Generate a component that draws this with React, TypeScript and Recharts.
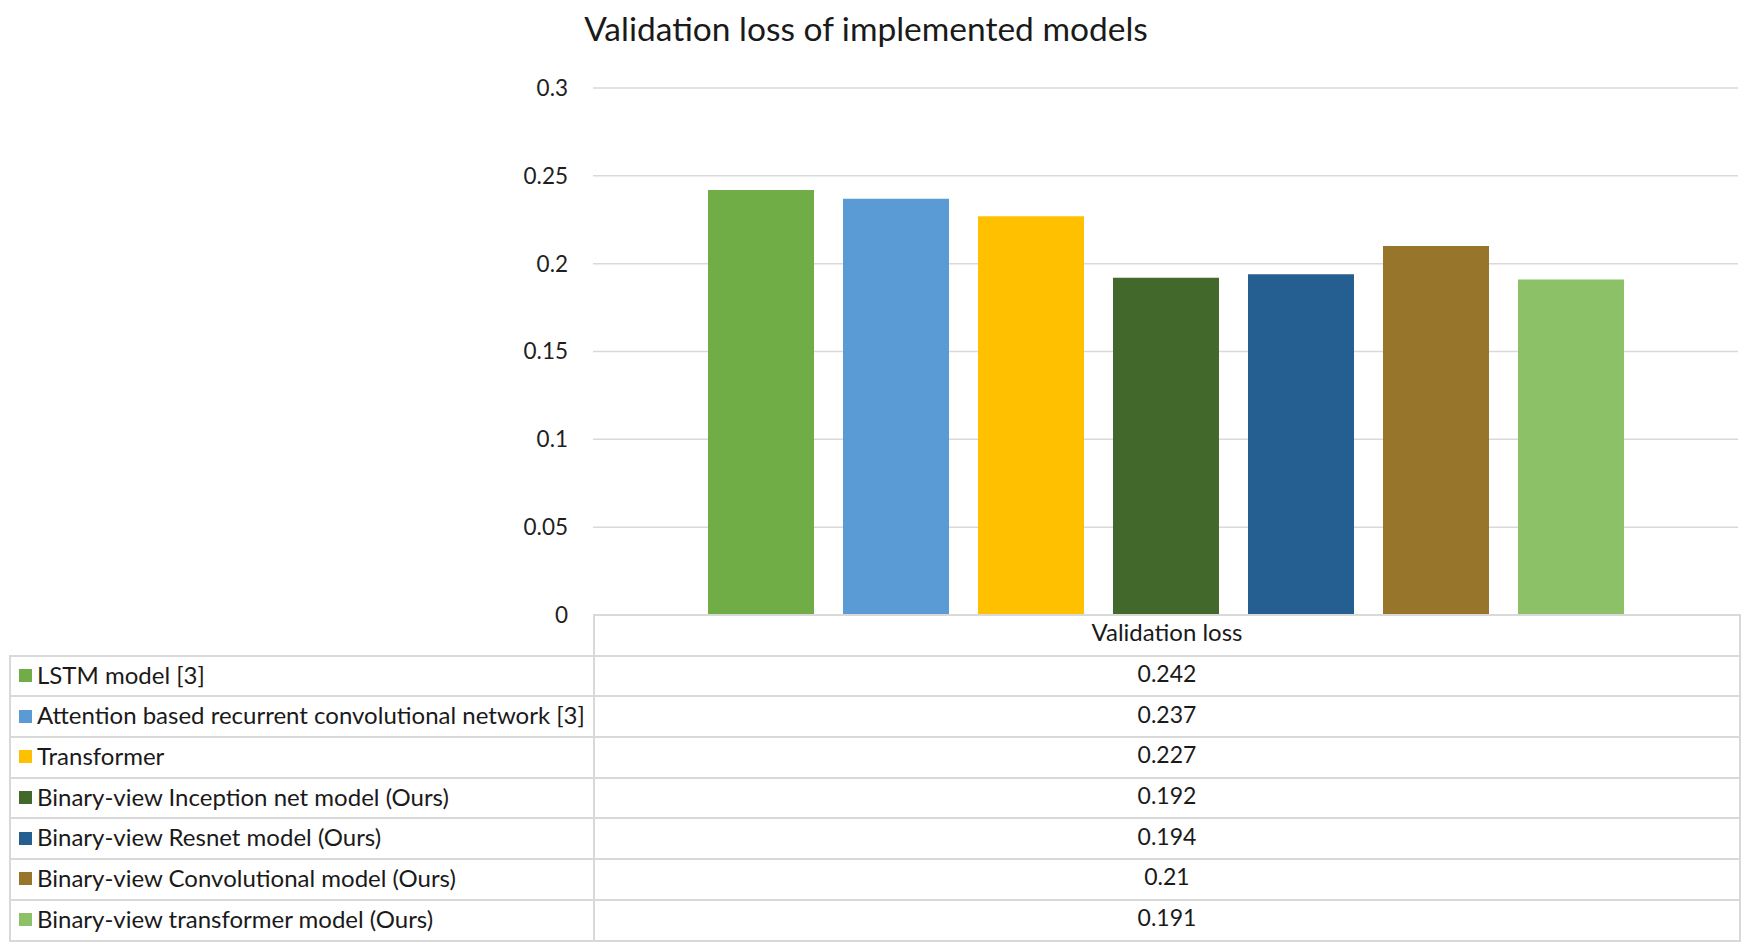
import React from 'react';
import { BarChart, Bar, XAxis, YAxis, CartesianGrid } from 'recharts';

const modelNames = [
  'LSTM model [3]',
  'Attention based recurrent convolutional network [3]',
  'Transformer',
  'Binary-view Inception net model (Ours)',
  'Binary-view Resnet model (Ours)',
  'Binary-view Convolutional model (Ours)',
  'Binary-view transformer model (Ours)',
];
const lossValues = [0.242, 0.237, 0.227, 0.192, 0.194, 0.21, 0.191];
const barColors = ['#70ad47', '#5b9bd5', '#ffc000', '#43682b', '#255e91', '#97762b', '#8cc168'];
const yTicks = [0, 0.05, 0.1, 0.15, 0.2, 0.25, 0.3];
const categoryName = 'Validation loss';

const chartData = [
  modelNames.reduce((row: Record<string, any>, _, i) => {
    row[`m${i}`] = lossValues[i];
    return row;
  }, { name: categoryName }),
];

const FONT = 'Lato, "Open Sans", sans-serif';
const GRID = '#d9d9d9';
const border = `2px solid ${GRID}`;

export default function App() {
  return (
    <div style={{ position: 'fixed', left: 0, top: 0, width: 1750, height: 950, background: '#fff', fontFamily: FONT }}>
      <div style={{ position: 'absolute', top: 8, left: 0, width: 1732, textAlign: 'center', fontSize: 33.5, color: '#1a1a1a' }}>
        Validation loss of implemented models
      </div>
      <BarChart
        width={1750}
        height={950}
        data={chartData}
        margin={{ top: 88, right: 12, bottom: 335, left: 533 }}
        barCategoryGap={115}
        barGap={29}
      >
        <CartesianGrid vertical={false} stroke={GRID} strokeWidth={1.5} />
        <XAxis dataKey="name" hide />
        <YAxis
          width={60}
          domain={[0, 0.3]}
          ticks={yTicks}
          interval={0}
          axisLine={false}
          tickLine={false}
          tickSize={22}
          tickMargin={3}
          tick={{ fontSize: 22.5, fill: '#1f1f1f', fontFamily: FONT }}
        />
        {modelNames.map((m, i) => (
          <Bar key={m} dataKey={`m${i}`} name={m} fill={barColors[i]} isAnimationActive={false} />
        ))}
      </BarChart>
      <table
        style={{
          position: 'absolute',
          top: 614,
          left: 9,
          width: 1730,
          borderCollapse: 'collapse',
          tableLayout: 'fixed',
          color: '#1a1a1a',
          lineHeight: '24px',
        }}
      >
        <colgroup>
          <col style={{ width: 584 }} />
          <col style={{ width: 1146 }} />
        </colgroup>
        <tbody>
          <tr style={{ height: 40.7 }}>
            <td style={{ border: 'none', borderRight: border, padding: 0 }}></td>
            <td style={{ border, textAlign: 'center', padding: '0 0 6px 0', fontSize: 24 }}>{categoryName}</td>
          </tr>
          {modelNames.map((m, i) => (
            <tr key={m} style={{ height: 40.7 }}>
              <td style={{ border, padding: '0 0 6px 8px', whiteSpace: 'nowrap', fontSize: 24 }}>
                <span
                  style={{
                    display: 'inline-block',
                    width: 13,
                    height: 13,
                    background: barColors[i],
                    marginRight: 5,
                    verticalAlign: 'middle',
                    position: 'relative',
                    top: 1,
                  }}
                />
                <span style={{ verticalAlign: 'middle' }}>{m}</span>
              </td>
              <td style={{ border, textAlign: 'center', padding: '0 0 6px 0', fontSize: 23 }}>{lossValues[i]}</td>
            </tr>
          ))}
        </tbody>
      </table>
    </div>
  );
}
